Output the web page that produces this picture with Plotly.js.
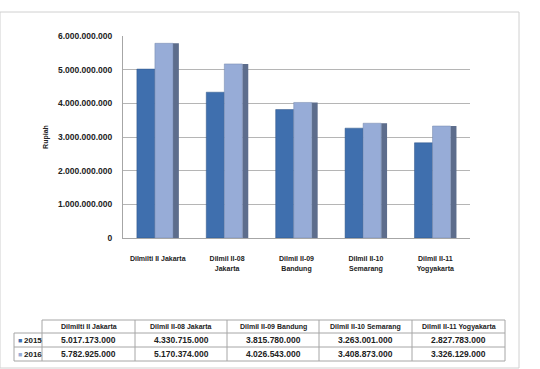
<!DOCTYPE html>
<html>
<head>
<meta charset="utf-8">
<script src="https://cdn.plot.ly/plotly-3.0.1.min.js"></script>
<style>html,body{margin:0;padding:0;background:#fff;}#chart{width:540px;height:369px;}</style>
</head>
<body>
<div id="chart"></div>
<script>
var categories = ["Dilmilti II Jakarta", "Dilmil II-08 Jakarta", "Dilmil II-09 Bandung", "Dilmil II-10 Semarang", "Dilmil II-11 Yogyakarta"];
var axisLabels = ["Dilmilti II Jakarta", "Dilmil II-08<br>Jakarta", "Dilmil II-09<br>Bandung", "Dilmil II-10<br>Semarang", "Dilmil II-11<br>Yogyakarta"];
var seriesNames = ["2015", "2016"];
var values2015 = [5017173000, 4330715000, 3815780000, 3263001000, 2827783000];
var values2016 = [5782925000, 5170374000, 4026543000, 3408873000, 3326129000];
var yTicks = [0, 1000000000, 2000000000, 3000000000, 4000000000, 5000000000, 6000000000];

var c2015 = "#3f6fae";
var c2016 = "#97acd7";
var cSide = "#5d6d8c";
var fontFam = "Liberation Sans, Arial, sans-serif";

function fmt(n) { return String(n).replace(/\B(?=(\d{3})+(?!\d))/g, "."); }

// page geometry helpers (margins below)
var M = {l: 14, r: 35, t: 36, b: 7};
var PW = 540 - M.l - M.r, PH = 369 - M.t - M.b;
function px(x) { return (x - M.l) / PW; }
function py(y) { return (369 - M.b - y) / PH; }

var traces = [
  {type: "bar", name: seriesNames[1] + " side", x: axisLabels, y: values2016,
   offset: 0.22, width: 0.085, marker: {color: cSide, line: {width: 0}}, hoverinfo: "skip"},
  {type: "bar", name: seriesNames[0], x: axisLabels, y: values2015,
   offset: -0.30, width: 0.26, marker: {color: c2015, line: {color: "#2f5586", width: 0.5}}, hoverinfo: "y"},
  {type: "bar", name: seriesNames[1], x: axisLabels, y: values2016,
   offset: -0.04, width: 0.26, marker: {color: c2016, line: {color: "#7386aa", width: 0.5}}, hoverinfo: "y"}
];

// data table drawn with shapes + annotations
var colX = [14, 42, 135, 227, 319, 412, 505];
var rowY = [320, 333, 347, 361];
var lineC = "#a6a6a6";
var shapes = [
  {type: "rect", xref: "paper", yref: "paper", x0: px(0), x1: px(519), y0: py(368), y1: py(12),
   line: {color: "#d0d0d0", width: 1}, fillcolor: "rgba(0,0,0,0)"}
];
var annotations = [];
shapes.push({type: "line", xref: "paper", yref: "paper", x0: px(colX[1]), x1: px(colX[6]), y0: py(rowY[0]), y1: py(rowY[0]), line: {color: lineC, width: 1}});
for (var r = 1; r < rowY.length; r++) {
  shapes.push({type: "line", xref: "paper", yref: "paper", x0: px(colX[0]), x1: px(colX[6]), y0: py(rowY[r]), y1: py(rowY[r]), line: {color: lineC, width: 1}});
}
shapes.push({type: "line", xref: "paper", yref: "paper", x0: px(colX[0]), x1: px(colX[0]), y0: py(rowY[1]), y1: py(rowY[3]), line: {color: lineC, width: 1}});
for (var c = 1; c < colX.length; c++) {
  shapes.push({type: "line", xref: "paper", yref: "paper", x0: px(colX[c]), x1: px(colX[c]), y0: py(rowY[0]), y1: py(rowY[3]), line: {color: lineC, width: 1}});
}
categories.forEach(function(cat, i) {
  annotations.push({xref: "paper", yref: "paper", x: px((colX[i+1] + colX[i+2]) / 2), y: py((rowY[0] + rowY[1]) / 2),
    text: "<b>" + cat + "</b>", showarrow: false, xanchor: "center", yanchor: "middle",
    font: {family: fontFam, size: 7, color: "#222"}});
});
var rows = [values2015, values2016];
var rowColors = [c2015, c2016];
rows.forEach(function(vals, r) {
  var yc = py((rowY[r+1] + rowY[r+2]) / 2);
  annotations.push({xref: "paper", yref: "paper", x: px(15.5), y: yc, text: "■", showarrow: false,
    xanchor: "left", yanchor: "middle", font: {family: fontFam, size: 7, color: rowColors[r]}});
  annotations.push({xref: "paper", yref: "paper", x: px(22), y: yc, text: "<b>" + seriesNames[r] + "</b>", showarrow: false,
    xanchor: "left", yanchor: "middle", font: {family: fontFam, size: 8, color: "#222"}});
  vals.forEach(function(v, i) {
    annotations.push({xref: "paper", yref: "paper", x: px((colX[i+1] + colX[i+2]) / 2), y: yc,
      text: "<b>" + fmt(v) + "</b>", showarrow: false, xanchor: "center", yanchor: "middle",
      font: {family: fontFam, size: 8.5, color: "#222"}});
  });
});

var layout = {
  width: 540, height: 369,
  margin: M,
  paper_bgcolor: "#ffffff", plot_bgcolor: "#ffffff",
  separators: ",.",
  showlegend: false,
  barmode: "overlay",
  font: {family: fontFam, size: 7, color: "#222"},
  xaxis: {
    domain: [px(123), px(470)],
    showgrid: false, zeroline: false,
    showline: true, linecolor: "#a6a6a6", linewidth: 1,
    ticks: "", ticklabelstandoff: 14,
    tickfont: {family: fontFam, size: 7, color: "#222", weight: "bold"},
    tickangle: 0
  },
  yaxis: {
    domain: [py(238), py(36)],
    range: [0, 6000000000],
    tickvals: yTicks,
    tickformat: ",d",
    showgrid: true, gridcolor: "#b5b5b5", gridwidth: 1,
    zeroline: false, showline: true, linecolor: "#a6a6a6", linewidth: 1,
    ticks: "", ticklabelstandoff: 8,
    tickfont: {family: fontFam, size: 8.5, color: "#222", weight: "bold"},
    title: {text: "<b>Rupiah</b>", font: {family: fontFam, size: 7, color: "#222"}, standoff: 8}
  },
  annotations: annotations,
  shapes: shapes
};

Plotly.newPlot("chart", traces, layout, {displayModeBar: false, staticPlot: true});
</script>
</body>
</html>
